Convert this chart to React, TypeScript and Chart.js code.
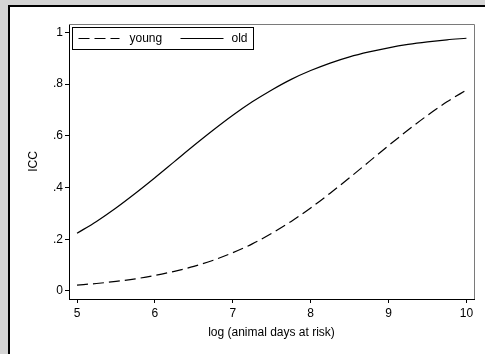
import React, { useEffect, useRef } from "react";
import { Chart, registerables } from "chart.js";

Chart.register(...registerables);

const xValues = [5, 5.25, 5.5, 5.75, 6, 6.25, 6.5, 6.75, 7, 7.25, 7.5, 7.75, 8, 8.25, 8.5, 8.75, 9, 9.25, 9.5, 9.75, 10];
const youngValues = [0.023, 0.029, 0.037, 0.047, 0.06, 0.076, 0.095, 0.119, 0.148, 0.182, 0.223, 0.269, 0.321, 0.378, 0.438, 0.5, 0.562, 0.622, 0.679, 0.731, 0.777];
const oldValues = [0.223, 0.269, 0.321, 0.378, 0.438, 0.5, 0.562, 0.622, 0.679, 0.731, 0.777, 0.818, 0.852, 0.881, 0.905, 0.924, 0.94, 0.953, 0.963, 0.971, 0.977];
const xTicks = [5, 6, 7, 8, 9, 10];
const yTicks = [0, 0.2, 0.4, 0.6, 0.8, 1];
const yTickLabels = ["0", ".2", ".4", ".6", ".8", "1"];
const seriesNames = ["young", "old"];
const xTitle = "log (animal days at risk)";
const yTitle = "ICC";

const FONT = "Arial, 'Liberation Sans', sans-serif";

const framePlugin = {
  id: "frame",
  afterDraw(chart: any) {
    const { ctx, chartArea } = chart;
    ctx.save();
    ctx.strokeStyle = "#7a7a7a";
    ctx.lineWidth = 1;
    ctx.beginPath();
    ctx.moveTo(Math.round(chartArea.left), Math.round(chartArea.top) + 0.5);
    ctx.lineTo(Math.round(chartArea.right) + 0.5, Math.round(chartArea.top) + 0.5);
    ctx.lineTo(Math.round(chartArea.right) + 0.5, Math.round(chartArea.bottom));
    ctx.stroke();
    ctx.restore();
  },
};

const legendPlugin = {
  id: "customLegend",
  afterDatasetsDraw(chart: any) {
    const { ctx, chartArea } = chart;
    const bx = chartArea.left + 3.5;
    const by = chartArea.top + 3.5;
    const bw = 181;
    const bh = 22;
    ctx.save();
    ctx.fillStyle = "#fff";
    ctx.fillRect(bx, by, bw, bh);
    ctx.strokeStyle = "#000";
    ctx.lineWidth = 1;
    ctx.strokeRect(bx, by, bw, bh);
    const cy = by + bh / 2;
    ctx.font = `12px ${FONT}`;
    ctx.textBaseline = "middle";
    ctx.fillStyle = "#000";
    const items = [
      { x0: bx + 6, x1: bx + 47, tx: bx + 57, ds: chart.data.datasets[0] },
      { x0: bx + 108, x1: bx + 151, tx: bx + 159, ds: chart.data.datasets[1] },
    ];
    items.forEach((it) => {
      ctx.beginPath();
      ctx.setLineDash(it.ds.borderDash || []);
      ctx.lineWidth = it.ds.borderWidth;
      ctx.strokeStyle = "#000";
      ctx.moveTo(it.x0, cy);
      ctx.lineTo(it.x1, cy);
      ctx.stroke();
      ctx.setLineDash([]);
      ctx.fillText(it.ds.label, it.tx, cy + 0.5);
    });
    ctx.restore();
  },
};

export default function App() {
  const canvasRef = useRef<HTMLCanvasElement | null>(null);

  useEffect(() => {
    if (!canvasRef.current) return;
    Chart.defaults.font.family = FONT;
    Chart.defaults.color = "#000";
    const chart = new Chart(canvasRef.current, {
      type: "line",
      data: {
        datasets: [
          {
            label: seriesNames[0],
            data: xValues.map((x, i) => ({ x, y: youngValues[i] })),
            borderColor: "#000",
            borderWidth: 1.2,
            borderDash: [11, 5],
            pointRadius: 0,
            cubicInterpolationMode: "monotone",
            fill: false,
          },
          {
            label: seriesNames[1],
            data: xValues.map((x, i) => ({ x, y: oldValues[i] })),
            borderColor: "#000",
            borderWidth: 1.2,
            pointRadius: 0,
            cubicInterpolationMode: "monotone",
            fill: false,
          },
        ],
      },
      options: {
        animation: false,
        responsive: false,
        events: [],
        layout: { padding: { top: 24, right: 11, left: 0, bottom: 0 } },
        plugins: {
          legend: { display: false },
          tooltip: { enabled: false },
        },
        scales: {
          x: {
            type: "linear",
            min: 4.897,
            max: 10.097,
            afterBuildTicks: (scale: any) => {
              scale.ticks = xTicks.map((v) => ({ value: v }));
            },
            afterFit: (scale: any) => {
              scale.height = 55;
            },
            ticks: {
              font: { size: 12 },
              color: "#000",
              padding: 3,
              maxRotation: 0,
              autoSkip: false,
              callback: (v: any) => String(v),
            },
            grid: {
              display: true,
              drawOnChartArea: false,
              drawTicks: true,
              tickLength: 4,
              color: "#000",
            },
            border: { display: true, color: "#000", width: 1 },
            title: {
              display: true,
              text: xTitle,
              font: { size: 12 },
              color: "#000",
              padding: { top: 0, bottom: 14 },
            },
          },
          y: {
            type: "linear",
            min: -0.031,
            max: 1.032,
            afterBuildTicks: (scale: any) => {
              scale.ticks = yTicks.map((v) => ({ value: v }));
            },
            afterFit: (scale: any) => {
              scale.width = 69;
            },
            ticks: {
              font: { size: 12 },
              color: "#000",
              padding: 2,
              autoSkip: false,
              callback: (v: any) => {
                const idx = yTicks.findIndex((t) => Math.abs(t - Number(v)) < 1e-6);
                return idx >= 0 ? yTickLabels[idx] : "";
              },
            },
            grid: {
              display: true,
              drawOnChartArea: false,
              drawTicks: true,
              tickLength: 4,
              color: "#000",
            },
            border: { display: true, color: "#000", width: 1 },
            title: {
              display: true,
              text: yTitle,
              font: { size: 12 },
              color: "#000",
              padding: { top: 26, bottom: 0 },
            },
          },
        },
      },
      plugins: [framePlugin, legendPlugin],
    } as any);
    return () => chart.destroy();
  }, []);

  return (
    <div
      style={{
        position: "fixed",
        left: 0,
        top: 0,
        width: 485,
        height: 354,
        background: "#d4d4d4",
        overflow: "hidden",
      }}
    >
      <div
        style={{
          position: "absolute",
          left: 8,
          top: 5,
          width: 500,
          height: 400,
          background: "#fff",
          borderLeft: "2px solid #000",
          borderTop: "2px solid #000",
        }}
      />
      <canvas
        ref={canvasRef}
        width={485}
        height={354}
        style={{ position: "absolute", left: 0, top: 0, width: 485, height: 354 }}
      />
    </div>
  );
}
